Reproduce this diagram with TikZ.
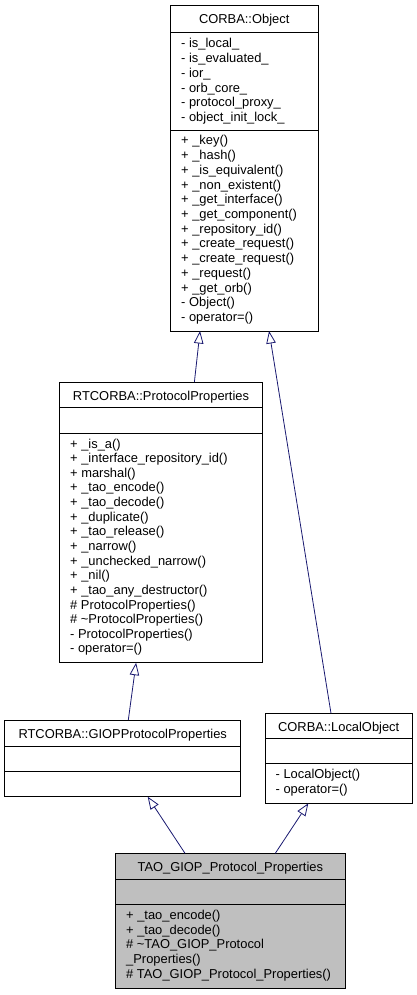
\documentclass[tikz,border=0pt]{standalone}
\usepackage{fontspec}
\setmainfont{Liberation Sans}
\usetikzlibrary{arrows.meta}
\definecolor{edgeblue}{RGB}{25,25,112}
\definecolor{focusgray}{RGB}{191,191,191}
\tikzset{
  classbox/.style={draw=black, line width=0.9pt, inner sep=0pt, outer sep=0pt, anchor=north west},
  sepline/.style={draw=black, line width=0.9pt},
  hdr/.style={anchor=base, inner sep=0pt, font=\fontsize{12.9}{14.7}\selectfont},
  mbr/.style={anchor=base west, inner sep=0pt, font=\fontsize{12.9}{14.7}\selectfont},
  inherit/.style={draw=edgeblue, line width=0.8pt, -{Triangle[open, length=12.5pt, width=9.5pt, fill=white]}}
}
\begin{document}
\begin{tikzpicture}[x=1pt, y=-1pt]
\useasboundingbox (0,0) rectangle (417,995);
% CORBA::Object
\node[classbox, minimum width=147.5pt, minimum height=325.5pt] (obj) at (170.5,5.5) {};
\draw[sepline] (170.5,32.7) -- (318,32.7);
\draw[sepline] (170.5,130) -- (318,130);
\node[hdr] (objh) at (244.2,23.5) {CORBA::Object};
\foreach \t [count=\i from 0] in {- is\_local\_, - is\_evaluated\_, - ior\_, - orb\_core\_, - protocol\_proxy\_, - object\_init\_lock\_}
  \node[mbr] (obja-\i) at (181,48+\i*14.7) {\t};
\foreach \t [count=\i from 0] in {+ \_key(), + \_hash(), + \_is\_equivalent(), + \_non\_existent(), + \_get\_interface(), + \_get\_component(), + \_repository\_id(), + \_create\_request(), + \_create\_request(), + \_request(), + \_get\_orb(), - Object(), - operator=()}
  \node[mbr] (objm-\i) at (181,145+\i*14.7) {\t};
% RTCORBA::ProtocolProperties
\node[classbox, minimum width=203.4pt, minimum height=280.7pt] (pp) at (59.3,382) {};
\draw[sepline] (59.3,407) -- (262.7,407);
\draw[sepline] (59.3,433) -- (262.7,433);
\node[hdr] (pph) at (161,400) {RTCORBA::ProtocolProperties};
\foreach \t [count=\i from 0] in {+ \_is\_a(), + \_interface\_repository\_id(), + marshal(), + \_tao\_encode(), + \_tao\_decode(), + \_duplicate(), + \_tao\_release(), + \_narrow(), + \_unchecked\_narrow(), + \_nil(), + \_tao\_any\_destructor(), \# ProtocolProperties(), \# \textasciitilde ProtocolProperties(), - ProtocolProperties(), - operator=()}
  \node[mbr] (ppm-\i) at (70,448+\i*14.64) {\t};
% RTCORBA::GIOPProtocolProperties
\node[classbox, minimum width=236pt, minimum height=76.7pt] (giop) at (4.7,720) {};
\draw[sepline] (4.7,746) -- (240.7,746);
\draw[sepline] (4.7,771) -- (240.7,771);
\node[hdr] (gioph) at (122.7,738) {RTCORBA::GIOPProtocolProperties};
% CORBA::LocalObject
\node[classbox, minimum width=147.3pt, minimum height=90pt] (lo) at (265,713.3) {};
\draw[sepline] (265,738.3) -- (412.3,738.3);
\draw[sepline] (265,763.3) -- (412.3,763.3);
\node[hdr] (loh) at (338.7,731.3) {CORBA::LocalObject};
\foreach \t [count=\i from 0] in {- LocalObject(), - operator=()}
  \node[mbr] (lom-\i) at (275.5,778.5+\i*14.7) {\t};
% TAO_GIOP_Protocol_Properties
\node[classbox, fill=focusgray, minimum width=229.3pt, minimum height=135pt] (tao) at (115.7,853.3) {};
\draw[sepline] (115.7,879.3) -- (345,879.3);
\draw[sepline] (115.7,904.3) -- (345,904.3);
\node[hdr] (taoh) at (230.3,871.3) {TAO\_GIOP\_Protocol\_Properties};
\foreach \t [count=\i from 0] in {+ \_tao\_encode(), + \_tao\_decode(), \# \textasciitilde TAO\_GIOP\_Protocol, \_Properties(), \# TAO\_GIOP\_Protocol\_Properties()}
  \node[mbr] (taom-\i) at (126,919.3+\i*14.7) {\t};
% inheritance arrows
\draw[inherit] ([xshift=-68.3pt]pp.north east) -- ([xshift=-44.2pt]obj.south);
\draw[inherit] ([xshift=66pt]lo.north west) -- ([xshift=24.8pt]obj.south);
\draw[inherit] ([xshift=123.6pt]giop.north west) -- ([xshift=131.4pt]giop.north west |- pp.south);
\draw[inherit] ([xshift=69.3pt]tao.north west) -- ([xshift=143pt]giop.south west);
\draw[inherit] ([xshift=159.6pt]tao.north west) -- ([xshift=43.3pt]lo.south west);
\end{tikzpicture}
\end{document}
